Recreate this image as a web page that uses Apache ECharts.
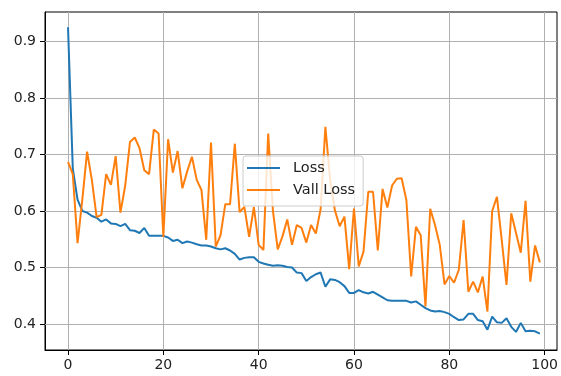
<!DOCTYPE html>
<html><head><meta charset="utf-8">
<script src="https://cdn.jsdelivr.net/npm/echarts@6/dist/echarts.min.js"></script>
<style>html,body{margin:0;padding:0;background:#fff}#c{width:561px;height:376px}</style>
</head><body><div id="c"></div>
<script>
const xTicks = [0, 20, 40, 60, 80, 100];
const yTicks = [0.4, 0.5, 0.6, 0.7, 0.8, 0.9];
const seriesNames = ['Loss', 'Vall Loss'];

const loss = [
  0.925,0.675,0.620,0.600,0.597,0.591,0.588,0.581,0.585,0.578,
  0.577,0.573,0.577,0.566,0.565,0.561,0.570,0.556,0.556,0.556,
  0.556,0.553,0.547,0.549,0.543,0.546,0.544,0.541,0.539,0.539,
  0.537,0.534,0.532,0.534,0.530,0.524,0.514,0.517,0.518,0.518,
  0.510,0.507,0.505,0.503,0.504,0.503,0.501,0.500,0.491,0.490,
  0.476,0.483,0.488,0.491,0.466,0.479,0.478,0.474,0.467,0.455,
  0.455,0.460,0.456,0.454,0.457,0.452,0.447,0.442,0.441,0.441,
  0.441,0.441,0.438,0.440,0.434,0.428,0.424,0.422,0.423,0.421,
  0.418,0.412,0.407,0.408,0.418,0.418,0.407,0.405,0.390,0.413,
  0.403,0.402,0.410,0.395,0.386,0.402,0.387,0.388,0.387,0.383
];

const valLoss = [
  0.687,0.665,0.543,0.620,0.705,0.655,0.589,0.593,0.665,0.646,
  0.697,0.597,0.645,0.722,0.730,0.711,0.672,0.665,0.744,0.737,
  0.554,0.727,0.668,0.706,0.640,0.670,0.696,0.655,0.637,0.549,
  0.721,0.537,0.557,0.612,0.612,0.719,0.598,0.607,0.554,0.607,
  0.540,0.531,0.737,0.600,0.532,0.555,0.585,0.540,0.575,0.570,
  0.544,0.575,0.560,0.603,0.749,0.655,0.601,0.573,0.590,0.497,
  0.604,0.502,0.528,0.634,0.634,0.530,0.639,0.606,0.645,0.657,
  0.658,0.619,0.484,0.572,0.557,0.431,0.604,0.575,0.540,0.470,
  0.485,0.473,0.496,0.584,0.457,0.475,0.456,0.484,0.422,0.600,
  0.625,0.549,0.469,0.596,0.561,0.526,0.618,0.475,0.539,0.509
];

const FONT = 'DejaVu Sans';
const chart = echarts.init(document.getElementById('c'), null, {renderer: 'canvas'});

const gridLines = xTicks.map(v => ({xAxis: v})).concat(yTicks.map(v => ({yAxis: v})));

const option = {
  animation: false,
  backgroundColor: '#fff',
  grid: {left: 45, top: 12, width: 512, height: 338, show: true,
         borderColor: '#000', borderWidth: 1, backgroundColor: 'transparent'},
  xAxis: {
    type: 'value', min: -4.83, max: 102.6,
    axisLine: {show: true, onZero: false, lineStyle: {color: '#000', width: 1}},
    axisTick: {show: true, customValues: xTicks, length: 5, lineStyle: {color: '#000', width: 1}},
    axisLabel: {customValues: xTicks, color: '#222', fontFamily: FONT, fontSize: 14, margin: 8},
    splitLine: {show: false}
  },
  yAxis: {
    type: 'value', min: 0.354, max: 0.952,
    axisLine: {show: true, onZero: false, lineStyle: {color: '#000', width: 1}},
    axisTick: {show: true, customValues: yTicks, length: 5, lineStyle: {color: '#000', width: 1}},
    axisLabel: {customValues: yTicks, color: '#222', fontFamily: FONT, fontSize: 14, margin: 9,
                formatter: v => Number(v).toFixed(1)},
    splitLine: {show: false}
  },
  legend: {
    data: seriesNames,
    orient: 'vertical',
    left: 243, top: 156,
    padding: [4, 8, 8, 4],
    itemGap: 6,
    itemWidth: 33, itemHeight: 2,
    icon: 'rect',
    backgroundColor: 'rgba(255,255,255,0.8)',
    borderColor: '#cccccc', borderWidth: 1, borderRadius: 3,
    textStyle: {color: '#222', fontFamily: FONT, fontSize: 14.5, lineHeight: 16, padding: [0, 0, 0, 8]},
    z: 10
  },
  series: [
    {
      name: 'grid', type: 'line', data: [], silent: true, z: 1,
      markLine: {
        silent: true, z: 1, symbol: ['none', 'none'], animation: false,
        label: {show: false},
        lineStyle: {color: '#b0b0b0', width: 1, type: 'solid'},
        emphasis: {disabled: true},
        data: gridLines
      }
    },
    {
      name: seriesNames[0], type: 'line', z: 3, showSymbol: false,
      color: '#1f77b4', lineStyle: {width: 2, color: '#1f77b4'},
      data: loss.map((v, i) => [i, v])
    },
    {
      name: seriesNames[1], type: 'line', z: 3, showSymbol: false,
      color: '#ff7f0e', lineStyle: {width: 2, color: '#ff7f0e'},
      data: valLoss.map((v, i) => [i, v])
    }
  ]
};
chart.setOption(option);
</script>
</body></html>
